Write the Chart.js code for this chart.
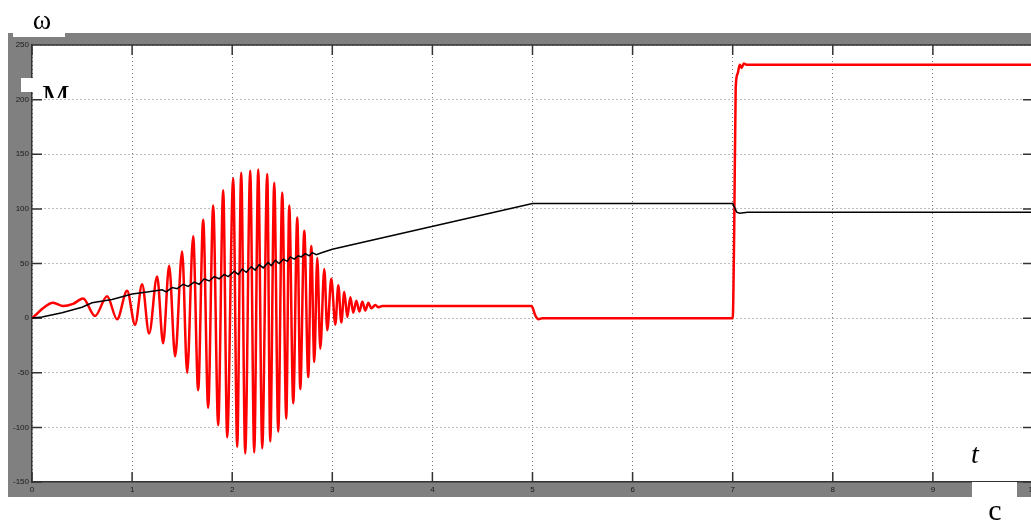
<!DOCTYPE html>
<html>
<head>
<meta charset="utf-8">
<script src="https://cdn.jsdelivr.net/npm/chart.js@4.4.1/dist/chart.umd.min.js"></script>
<style>
  html, body { margin: 0; padding: 0; background: #fff; overflow: hidden; }
  #wrap { width: 1031px; height: 521px; overflow: hidden; }
</style>
</head>
<body>
<div id="wrap"><canvas id="scope" width="1045" height="521"></canvas></div>
<script>
// axis ticks
const xTicks = [0, 1, 2, 3, 4, 5, 6, 7, 8, 9, 10];
const yTicks = [-150, -100, -50, 0, 50, 100, 150, 200, 250];

// ω (black) - speed
const wTime = [0, 0.1, 0.3, 0.5, 0.6, 0.8, 1.0, 1.15, 1.3, 1.34, 1.4, 1.45, 1.51, 1.56, 1.62, 1.67,
  1.72, 1.77, 1.82, 1.87, 1.92, 1.96, 2.02, 2.06, 2.1, 2.14, 2.19, 2.23, 2.27, 2.31, 2.36, 2.39,
  2.43, 2.47, 2.51, 2.55, 2.58, 2.62, 2.66, 2.69, 2.73, 2.77, 2.8, 2.84, 2.9, 3.0,
  5.0, 7.0, 7.02, 7.04, 7.07, 7.15, 10];
const wValues = [0, 1, 5, 10, 14, 17, 22, 24, 26, 24, 28, 27, 31, 29, 33, 31,
  36, 34, 38, 36, 40, 38, 43, 40, 45, 42, 47, 44, 49, 46, 51, 48,
  53, 50, 54, 52, 56, 54, 57, 56, 59, 57, 60, 58, 60, 63,
  105, 105, 101, 97, 96, 97, 97];

// M (red) - torque
const mTime = [0, 0.05, 0.11, 0.21, 0.31, 0.41, 0.51, 0.63, 0.75, 0.85, 0.95, 1.03, 1.1, 1.17,
  1.25, 1.31, 1.37, 1.43, 1.5, 1.55, 1.61, 1.66, 1.71, 1.76, 1.81, 1.86, 1.91, 1.95,
  2.01, 2.05, 2.09, 2.13, 2.18, 2.22, 2.26, 2.3, 2.35, 2.38, 2.42, 2.46, 2.5, 2.54,
  2.57, 2.61, 2.65, 2.68, 2.72, 2.76, 2.79, 2.82, 2.85, 2.88, 2.92, 2.95, 2.99, 3.03,
  3.06, 3.09, 3.12, 3.15, 3.18, 3.21, 3.24, 3.27, 3.3, 3.33, 3.36, 3.39, 3.43, 3.46, 3.5,
  4.99, 5.03, 5.06, 5.1, 7.0, 7.015, 7.03, 7.05, 7.07, 7.09, 7.11, 7.14, 10];
const mValues = [0, 4, 9, 14, 11, 13, 18, 2, 20, -1, 25, -6, 31, -14,
  38, -23, 48, -35, 61, -50, 75, -66, 90, -82, 103, -98, 117, -109,
  128, -118, 133, -124, 135, -123, 136, -119, 132, -113, 124, -104, 115, -92,
  103, -78, 92, -65, 80, -54, 66, -40, 55, -28, 45, -11, 36, -6,
  30, -4, 24, 1, 19, 5, 16, 6, 15, 7, 14, 9, 12, 10, 11,
  11, 2, -1, 0, 0, 80, 211, 224, 232, 229, 233, 232, 232];

const toPoints = (xs, ys) => xs.map((x, i) => ({ x: x, y: ys[i] }));

const scopeFrame = {
  id: "scopeFrame",
  beforeDraw(chart) {
    const ctx = chart.ctx, a = chart.chartArea;
    ctx.save();
    ctx.fillStyle = "#fff";
    ctx.fillRect(0, 0, chart.width, chart.height);
    ctx.fillStyle = "#808080";
    ctx.fillRect(8, 33, chart.width - 8, 497 - 33);
    ctx.fillStyle = "#fff";
    ctx.fillRect(a.left, a.top, a.right - a.left, a.bottom - a.top);
    ctx.restore();
  },
  beforeDatasetsDraw(chart) {
    const ctx = chart.ctx, a = chart.chartArea;
    const xs = chart.scales.x, ys = chart.scales.y;
    ctx.save();
    ctx.strokeStyle = "#333";
    ctx.lineWidth = 1.5;
    ctx.beginPath();
    ctx.moveTo(a.left, a.top);
    ctx.lineTo(a.right, a.top);
    ctx.moveTo(a.right, a.top);
    ctx.lineTo(a.right, a.bottom);
    // inner tick marks
    xTicks.forEach(v => {
      const px = xs.getPixelForValue(v);
      ctx.moveTo(px, a.top); ctx.lineTo(px, a.top + 10);
      ctx.moveTo(px, a.bottom); ctx.lineTo(px, a.bottom - 10);
    });
    yTicks.forEach(v => {
      const py = ys.getPixelForValue(v);
      ctx.moveTo(a.left, py); ctx.lineTo(a.left + 10, py);
      ctx.moveTo(a.right, py); ctx.lineTo(a.right - 10, py);
    });
    ctx.stroke();
    ctx.restore();
  },
  afterDraw(chart) {
    const ctx = chart.ctx;
    ctx.save();
    ctx.fillStyle = "#fff";
    ctx.fillRect(13, 0, 52, 37);
    ctx.fillRect(972, 482, 45, 39);
    ctx.fillStyle = "#000";
    ctx.font = "28px 'Liberation Serif'";
    ctx.textAlign = "center";
    ctx.textBaseline = "alphabetic";
    ctx.fillText("ω", 42, 29);
    ctx.font = "30px 'Liberation Serif'";
    ctx.fillText("c", 995, 520);
    ctx.font = "italic 28px 'Liberation Serif'";
    ctx.fillText("t", 975, 463);
    // M label, partly hidden
    ctx.save();
    ctx.beginPath();
    ctx.rect(0, 0, chart.width, 98);
    ctx.clip();
    ctx.fillStyle = "#fff";
    ctx.fillRect(21, 78, 40, 14);
    ctx.fillStyle = "#000";
    ctx.font = "31px 'Liberation Serif'";
    ctx.textAlign = "left";
    ctx.fillText("M", 42, 107);
    ctx.restore();
    ctx.restore();
  }
};

new Chart(document.getElementById("scope").getContext("2d"), {
  type: "line",
  data: {
    datasets: [
      {
        label: "ω",
        data: toPoints(wTime, wValues),
        borderColor: "#000",
        borderWidth: 1.5,
        pointRadius: 0,
        tension: 0,
        order: 0
      },
      {
        label: "M",
        data: toPoints(mTime, mValues),
        borderColor: "#ff0000",
        borderWidth: 2.5,
        pointRadius: 0,
        cubicInterpolationMode: "monotone",
        order: 1
      }
    ]
  },
  options: {
    responsive: false,
    devicePixelRatio: 1,
    animation: false,
    layout: { padding: { left: 0, top: 45, right: 12, bottom: 24 } },
    plugins: { legend: { display: false }, tooltip: { enabled: false } },
    scales: {
      x: {
        type: "linear",
        min: 0,
        max: 10,
        afterFit: s => { s.height = 15; },
        afterBuildTicks: s => { s.ticks = xTicks.map(v => ({ value: v })); },
        ticks: { padding: 3, maxRotation: 0, autoSkip: false, color: "#1a1a1a", font: { family: "'Liberation Sans'", size: 8 } },
        grid: { color: "#7a7a7a", lineWidth: 1, drawTicks: false },
        border: { color: "#333", width: 1.5, dash: [1, 3] }
      },
      y: {
        min: -150,
        max: 250,
        afterFit: s => { s.width = 32; },
        afterBuildTicks: s => { s.ticks = yTicks.map(v => ({ value: v })); },
        ticks: { padding: 3, autoSkip: false, color: "#1a1a1a", font: { family: "'Liberation Sans'", size: 8 } },
        grid: { color: "#7a7a7a", lineWidth: 1, drawTicks: false },
        border: { color: "#333", width: 1.5, dash: [1, 3] }
      }
    }
  },
  plugins: [scopeFrame]
});
</script>
</body>
</html>
